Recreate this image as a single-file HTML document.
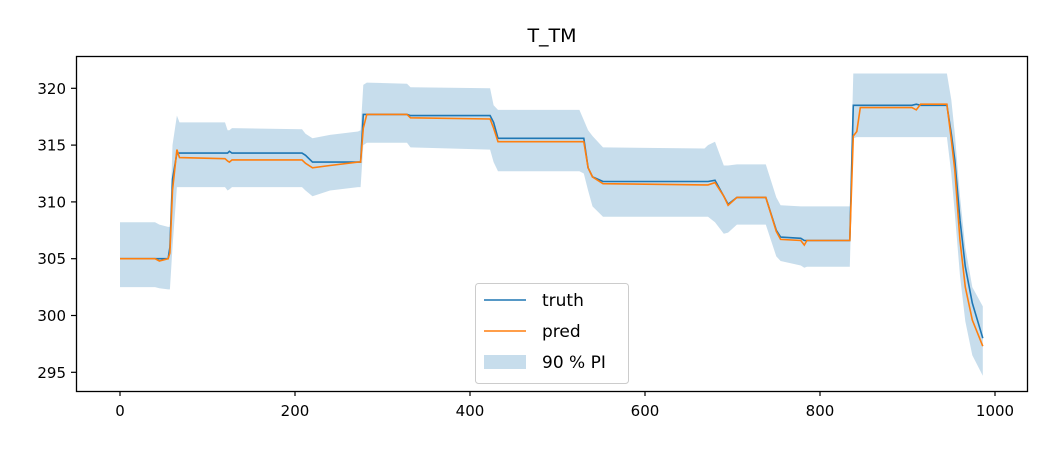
<!DOCTYPE html>
<html><head><meta charset="utf-8"><style>
body{margin:0;background:#fff}
svg{font-family:"DejaVu Sans","Liberation Sans",sans-serif}
</style></head><body>
<svg id="chart" width="1050" height="450" xmlns="http://www.w3.org/2000/svg">
<rect width="1050" height="450" fill="#fff"/>
<text x="552" y="42" font-size="19" text-anchor="middle" fill="#000">T_TM</text>
<g id="plot"></g>
<rect x="76.5" y="56.5" width="951" height="335" fill="none" stroke="#000" stroke-width="1.3"/>
<g id="axes"></g>
<g>
<rect x="475.5" y="283.5" width="153" height="100" rx="3" fill="#fff" fill-opacity="0.8" stroke="#ccc"/>
<line x1="484" y1="300" x2="526" y2="300" stroke="#1f77b4" stroke-width="1.6"/>
<text x="542" y="306" font-size="17">truth</text>
<line x1="484" y1="331" x2="526" y2="331" stroke="#ff7f0e" stroke-width="1.6"/>
<text x="542" y="337" font-size="17">pred</text>
<rect x="484" y="355" width="42" height="14" fill="#1f77b4" fill-opacity="0.25"/>
<text x="542" y="368" font-size="17">90 % PI</text>
</g>
</svg>
<script>
const xs =    [0,40,45,55,57,60,65,68,120,123,125,128,208,212,220,240,272,275,278,282,328,332,423,427,432,525,530,535,540,552,668,672,680,690,695,705,738,750,755,778,782,785,834,838,842,846,905,910,915,945,950,954,960,966,974,986];
const truth = [305,305,305,305,306,312,314.3,314.3,314.3,314.3,314.45,314.3,314.3,314.1,313.5,313.5,313.5,313.5,317.7,317.7,317.7,317.6,317.6,317.0,315.6,315.6,315.6,313,312.2,311.8,311.8,311.8,311.9,310.5,309.8,310.4,310.4,307.5,306.9,306.8,306.6,306.6,306.6,318.5,318.5,318.5,318.5,318.6,318.5,318.5,316,313.7,308.4,304.3,301.1,298.0];
const pred =  [305,305,304.8,305,305.5,311,314.6,313.9,313.8,313.6,313.5,313.7,313.7,313.4,313.0,313.2,313.5,313.5,316.5,317.7,317.7,317.4,317.3,316.5,315.3,315.3,315.3,313,312.2,311.6,311.5,311.5,311.7,310.5,309.7,310.4,310.4,307.4,306.7,306.6,306.2,306.6,306.6,315.8,316.2,318.3,318.3,318.1,318.6,318.6,315.5,312.8,306.6,302.5,299.6,297.3];
const hi =    [308.2,308.2,308,307.8,307.8,315,317.6,317.0,317.0,316.3,316.3,316.5,316.4,316.0,315.6,315.9,316.2,316.3,320.3,320.5,320.4,320.1,320.0,318.5,318.1,318.1,317.2,316.3,315.8,314.8,314.7,315,315.3,313.2,313.2,313.3,313.3,310.4,309.7,309.6,309.6,309.6,309.6,321.3,321.3,321.3,321.3,321.3,321.3,321.3,319,316,310.5,306,302.5,300.8];
const lo =    [302.5,302.5,302.4,302.3,302.3,306,311.3,311.3,311.3,311,311.1,311.3,311.3,311.0,310.5,311,311.3,311.3,315,315.2,315.2,314.8,314.6,313.5,312.7,312.7,312.5,311,309.6,308.7,308.7,308.7,308.2,307.2,307.3,308,308,305.2,304.8,304.4,304.2,304.3,304.3,315.6,315.7,315.7,315.7,315.7,315.7,315.7,312.5,309,303.5,299.5,296.5,294.7];
const xTicks = [0,200,400,600,800,1000];
const yTicks = [295,300,305,310,315,320];

const X = v => 120 + v * 0.875;
const Y = v => 88.3 + (320 - v) * 11.36;
const NS = "http://www.w3.org/2000/svg";
const plot = document.getElementById('plot');
const axes = document.getElementById('axes');
function mk(tag, attrs, parent){const e=document.createElementNS(NS,tag);for(const k in attrs)e.setAttribute(k,attrs[k]);parent.appendChild(e);return e;}

let d = xs.map((x,i)=>(i?'L':'M')+X(x).toFixed(1)+','+Y(hi[i]).toFixed(1)).join('');
for(let i=xs.length-1;i>=0;i--) d += 'L'+X(xs[i]).toFixed(1)+','+Y(lo[i]).toFixed(1);
const band = mk('path',{d:d+'Z',fill:'#1f77b4','fill-opacity':'0.25'},plot);



const lt = mk('polyline',{points:xs.map((x,i)=>X(x).toFixed(1)+','+Y(truth[i]).toFixed(1)).join(' '),fill:'none',stroke:'#1f77b4','stroke-width':'1.6'},plot);


const lp = mk('polyline',{points:xs.map((x,i)=>X(x).toFixed(1)+','+Y(pred[i]).toFixed(1)).join(' '),fill:'none',stroke:'#ff7f0e','stroke-width':'1.6'},plot);



xTicks.forEach(t=>{
  const g = mk('g',{},axes);
  
  
  mk('line',{x1:X(t),x2:X(t),y1:391,y2:396,stroke:'#000','stroke-width':'1.2'},g);
  const tx = mk('text',{x:X(t),y:416,'font-size':'15','text-anchor':'middle'},g);
  tx.textContent = t;
});
yTicks.forEach(t=>{
  const g = mk('g',{},axes);
  
  
  mk('line',{x1:71,x2:76,y1:Y(t),y2:Y(t),stroke:'#000','stroke-width':'1.2'},g);
  const tx = mk('text',{x:66,y:Y(t)+5.5,'font-size':'15','text-anchor':'end'},g);
  tx.textContent = t;
});
</script>
</body></html>
